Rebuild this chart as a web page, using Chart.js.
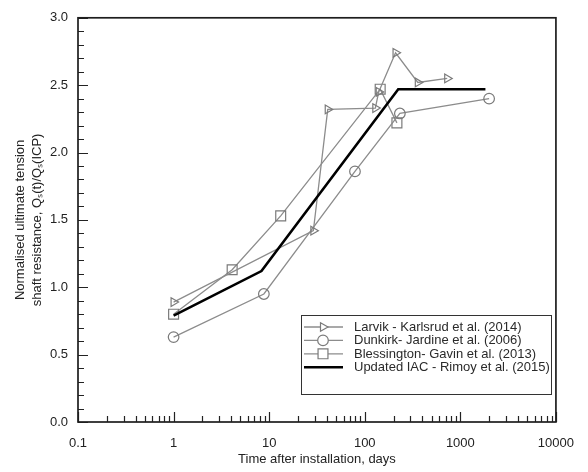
<!DOCTYPE html>
<html>
<head>
<meta charset="utf-8">
<script src="https://cdn.jsdelivr.net/npm/chart.js@4.4.1/dist/chart.umd.min.js"></script>
<style>
  body { margin: 0; background: #fff; }
</style>
</head>
<body>
<canvas id="timeChart" width="588" height="472"></canvas>
<script>
// values (days, normalised ratio)
const larvikDays = [1, 29, 41, 129, 140, 210, 359, 729];
const larvikRatio = [0.89, 1.42, 2.32, 2.33, 2.45, 2.74, 2.52, 2.55];

const dunkirkDays = [1, 8.8, 79, 233, 2000];
const dunkirkRatio = [0.63, 0.95, 1.86, 2.29, 2.40];

const blessDays = [1, 4.1, 13.2, 145, 217];
const blessRatio = [0.80, 1.13, 1.53, 2.47, 2.22];

const iacDays = [1, 8.3, 224, 1830];
const iacRatio = [0.79, 1.12, 2.47, 2.47];

const xTicks = [0.1, 1, 10, 100, 1000, 10000];
const seriesLabels = [
    'Larvik - Karlsrud et al. (2014)',
    'Dunkirk- Jardine et al. (2006)',
    'Blessington- Gavin et al. (2013)',
    'Updated IAC - Rimoy et al. (2015)'
];

const FONT = "'Liberation Sans', Arial, sans-serif";
const GREY = '#8c8c8c';

function toPoints(xs, ys) {
    return xs.map(function (x, i) { return { x: x, y: ys[i] }; });
}

// frame, inward ticks and the boxed legend
const framePlugin = {
    id: 'frame',
    afterDraw: function (chart) {
        const ctx = chart.ctx;
        const a = chart.chartArea;
        const xs = chart.scales.x;
        const ys = chart.scales.y;
        ctx.save();
        ctx.strokeStyle = '#222';
        ctx.lineWidth = 1.2;
        ctx.beginPath();
        // x ticks: decades long, 2..9 short
        for (let d = 0.1; d <= 10000; d *= 10) {
            const dec = Math.round(d * 10) / 10;
            let px = Math.round(xs.getPixelForValue(dec)) + 0.5;
            ctx.moveTo(px, a.bottom);
            ctx.lineTo(px, a.bottom - 10);
            if (dec >= 10000) break;
            for (let m = 2; m <= 9; m++) {
                px = Math.round(xs.getPixelForValue(dec * m)) + 0.5;
                ctx.moveTo(px, a.bottom);
                ctx.lineTo(px, a.bottom - 6);
            }
        }
        // y ticks every 0.1, longer at 0.5
        for (let i = 0; i <= 30; i++) {
            const py = Math.round(ys.getPixelForValue(i / 10)) + 0.5;
            const len = (i % 5 === 0) ? 10 : 6;
            ctx.moveTo(a.left, py);
            ctx.lineTo(a.left + len, py);
        }
        ctx.stroke();

        ctx.lineWidth = 1.7;
        ctx.strokeStyle = '#1e1e1e';
        ctx.strokeRect(a.left, a.top, a.right - a.left, a.bottom - a.top);

        // legend
        const box = { x: 301, y: 315, w: 250, h: 79 };
        ctx.lineWidth = 1;
        ctx.strokeStyle = '#333';
        ctx.fillStyle = '#fff';
        ctx.fillRect(box.x, box.y, box.w, box.h);
        ctx.strokeRect(box.x + 0.5, box.y + 0.5, box.w, box.h);
        ctx.font = '13px ' + FONT;
        ctx.textBaseline = 'middle';
        ctx.textAlign = 'left';
        chart.data.datasets.forEach(function (ds, i) {
            const y = box.y + 12 + i * 13.4;
            ctx.strokeStyle = ds.borderColor;
            ctx.lineWidth = ds.borderWidth;
            ctx.beginPath();
            ctx.moveTo(box.x + 3, y);
            ctx.lineTo(box.x + 42, y);
            ctx.stroke();
            if (ds.pointRadius > 0) {
                ctx.strokeStyle = ds.pointBorderColor;
                ctx.fillStyle = '#fff';
                ctx.lineWidth = ds.pointBorderWidth;
                Chart.helpers.drawPoint(ctx, {
                    pointStyle: ds.pointStyle,
                    radius: ds.pointRadius,
                    rotation: ds.pointRotation || 0,
                    borderWidth: ds.pointBorderWidth
                }, box.x + 22, y);
            }
            ctx.fillStyle = '#2a2a2a';
            ctx.fillText(ds.label, box.x + 53, y + 0.5);
        });
        ctx.restore();
    }
};

function lineSet(label, xs, ys, style, radius, rotation) {
    return {
        label: label,
        data: toPoints(xs, ys),
        borderColor: GREY,
        borderWidth: 1.3,
        pointStyle: style,
        pointRadius: radius,
        pointRotation: rotation,
        pointBorderColor: '#7a7a7a',
        pointBackgroundColor: 'rgba(255,255,255,0)',
        pointBorderWidth: 1.2,
        tension: 0,
        fill: false
    };
}

document.addEventListener('DOMContentLoaded', function () {
    try {
        const ctx = document.getElementById('timeChart').getContext('2d');
        new Chart(ctx, {
            type: 'line',
            data: {
                datasets: [
                    lineSet(seriesLabels[0], larvikDays, larvikRatio, 'triangle', 5, 90),
                    lineSet(seriesLabels[1], dunkirkDays, dunkirkRatio, 'circle', 5.3, 0),
                    lineSet(seriesLabels[2], blessDays, blessRatio, 'rect', 7, 0),
                    {
                        label: seriesLabels[3],
                        data: toPoints(iacDays, iacRatio),
                        borderColor: '#000',
                        borderWidth: 2.6,
                        pointRadius: 0,
                        tension: 0,
                        fill: false,
                        order: -1
                    }
                ]
            },
            options: {
                responsive: false,
                animation: false,
                devicePixelRatio: 1,
                layout: { padding: { top: 15, right: 22, left: 0, bottom: 0 } },
                plugins: {
                    legend: { display: false },
                    tooltip: { enabled: false }
                },
                scales: {
                    x: {
                        type: 'logarithmic',
                        min: 0.1,
                        max: 10000,
                        grid: { display: false, drawTicks: false },
                        border: { display: false },
                        afterBuildTicks: function (scale) {
                            scale.ticks = xTicks.map(function (v) { return { value: v }; });
                        },
                        afterFit: function (scale) { scale.height = 50; },
                        ticks: {
                            padding: 14,
                            color: '#222',
                            font: { family: FONT, size: 13 },
                            maxRotation: 0,
                            autoSkip: false,
                            callback: function (v) { return String(v); }
                        },
                        title: {
                            display: true,
                            text: 'Time after installation, days',
                            color: '#222',
                            font: { family: FONT, size: 13, lineHeight: 1.3 },
                            padding: { top: 0, bottom: 4 }
                        }
                    },
                    y: {
                        min: 0,
                        max: 3,
                        grid: { display: false, drawTicks: false },
                        border: { display: false },
                        afterFit: function (scale) { scale.width = 78; },
                        ticks: {
                            stepSize: 0.5,
                            padding: 10,
                            color: '#222',
                            font: { family: FONT, size: 13 },
                            callback: function (v) { return v.toFixed(1); }
                        },
                        title: {
                            display: true,
                            text: ['Normalised ultimate tension', 'shaft resistance, Qₛ(t)/Qₛ(ICP)'],
                            color: '#222',
                            font: { family: FONT, size: 13, lineHeight: 1.3 },
                            padding: { top: 12, bottom: 0 }
                        }
                    }
                }
            },
            plugins: [framePlugin]
        });
    } catch (error) {
        console.error('Chart setup failed: ', error);
    }
});
</script>
</body>
</html>
